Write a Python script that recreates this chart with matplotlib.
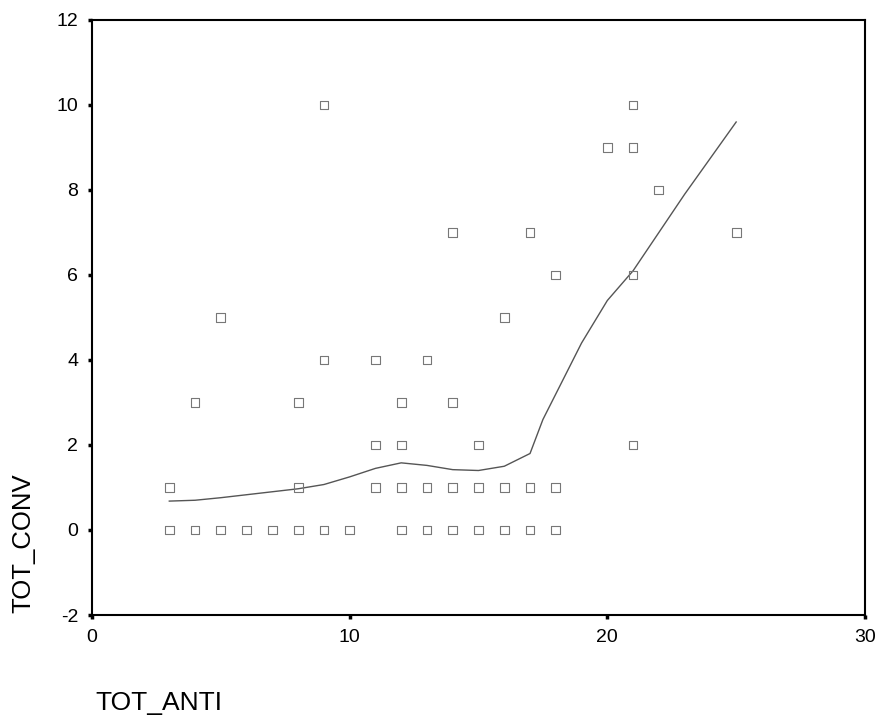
"""Scatter of TOT_CONV against TOT_ANTI with a smoothed fit line."""

import matplotlib
matplotlib.use("Agg")
import matplotlib.pyplot as plt

plt.rcParams["font.family"] = ["Liberation Sans", "DejaVu Sans"]
plt.rcParams["axes.unicode_minus"] = False

# Observed points
tot_anti = [3, 4, 5, 6, 7, 8, 9, 10, 12, 13, 14, 15, 16, 17, 18,
            3, 8, 11, 12, 13, 14, 15, 16, 17, 18,
            11, 12, 15, 21,
            4, 8, 12, 14,
            9, 11, 13,
            5, 16,
            18, 21,
            14, 17, 25,
            22,
            20, 21,
            9, 21]
tot_conv = [0] * 15 + [1] * 10 + [2] * 4 + [3] * 4 + [4] * 3 + [5] * 2 \
    + [6] * 2 + [7] * 3 + [8] + [9] * 2 + [10] * 2

# Smoothed fit
fit_x = [3, 4, 5, 6, 7, 8, 9, 10, 11, 12, 13, 14, 15, 16, 17, 17.5,
         18, 18.5, 19, 19.5, 20, 21, 22, 23, 24, 25]
fit_y = [0.68, 0.7, 0.76, 0.83, 0.9, 0.97, 1.07, 1.25, 1.45, 1.58, 1.52,
         1.42, 1.4, 1.5, 1.8, 2.6, 3.2, 3.8, 4.4, 4.9, 5.4, 6.1, 7.0,
         7.9, 8.75, 9.6]

x_ticks = [0, 10, 20, 30]
y_ticks = [-2, 0, 2, 4, 6, 8, 10, 12]

fig = plt.figure(figsize=(8.79, 7.18), dpi=100)
ax = fig.add_axes([92 / 879, 1 - 615 / 718, (865 - 92) / 879, (615 - 20) / 718])

ax.plot(fit_x, fit_y, color="#555555", linewidth=1.0, zorder=2)
ax.scatter(tot_anti, tot_conv, marker="s", s=40, facecolors="none",
           edgecolors="#777777", linewidths=0.8, zorder=3)

ax.set_xlim(0, 30)
ax.set_ylim(-2, 12)
ax.set_xticks(x_ticks)
ax.set_yticks(y_ticks)
ax.tick_params(direction="out", length=3, width=2.5, labelsize=14,
               color="black", pad=7)
for side in ax.spines.values():
    side.set_linewidth(1.5)
    side.set_color("black")

fig.text(23 / 879, 1 - 543 / 718, "TOT_CONV", rotation=90, fontsize=18.5,
         ha="center", va="center")
fig.text(95 / 879, 1 - 703 / 718, "TOT_ANTI", fontsize=19, ha="left",
         va="center")

fig.savefig("out.png", dpi=100)
